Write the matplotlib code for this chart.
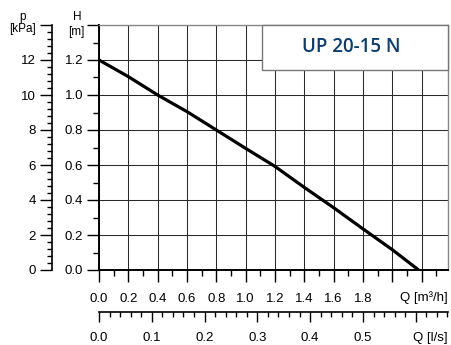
import numpy as np
import matplotlib.pyplot as plt
from matplotlib.ticker import MultipleLocator, FuncFormatter
from matplotlib.patches import Rectangle

plt.rcParams['font.family'] = ['Liberation Sans', 'DejaVu Sans']

# pump curve
q_m3h = [0.0, 0.2, 0.4, 0.6, 0.8, 1.0, 1.2, 1.4, 1.6, 1.8, 2.0, 2.18]
h_m = [1.2, 1.105, 1.0, 0.905, 0.8, 0.695, 0.592, 0.472, 0.356, 0.235, 0.116, 0.0]

title = "UP 20-15 N"
q_lab = "Q [m³/h]"
qls_lab = "Q [l/s]"

fig = plt.figure(figsize=(4.51, 3.45), dpi=100)
ax = fig.add_axes([99 / 451, 75 / 345, 349 / 451, 245 / 345])

ax.set_xlim(0, 2.38)
ax.set_ylim(0, 1.4)

ax.xaxis.set_major_locator(MultipleLocator(0.2))
ax.xaxis.set_minor_locator(MultipleLocator(0.1))
ax.yaxis.set_major_locator(MultipleLocator(0.2))
ax.yaxis.set_minor_locator(MultipleLocator(0.1))
ax.xaxis.set_major_formatter(FuncFormatter(lambda v, p: f"{v:.1f}" if v < 1.9 else ""))
ax.yaxis.set_major_formatter(FuncFormatter(lambda v, p: f"{v:.1f}" if v < 1.3 else ""))

ax.grid(True, which='major', color='#2a2a2a', lw=0.75)
ax.set_axisbelow(True)

ax.tick_params(which='major', direction='out', length=8.5, width=1.0, labelsize=9.5, colors='black')
ax.tick_params(which='minor', direction='out', length=4.3, width=1.0)
ax.tick_params(axis='x', which='major', pad=8)
ax.tick_params(axis='y', which='major', pad=3)

for s in ['top', 'right']:
    ax.spines[s].set_color('#888888')
    ax.spines[s].set_linewidth(1.0)
for s in ['left', 'bottom']:
    ax.spines[s].set_color('black')
    ax.spines[s].set_linewidth(1.4)

ax.plot(q_m3h, h_m, color='black', lw=2.3, solid_capstyle='butt', zorder=3)

# l/s axis below
sec = ax.secondary_xaxis(-0.17, functions=(lambda x: x / 3.6, lambda x: x * 3.6))
sec.xaxis.set_major_locator(MultipleLocator(0.1))
sec.xaxis.set_minor_locator(MultipleLocator(0.02))
sec.xaxis.set_major_formatter(FuncFormatter(lambda v, p: f"{v:.1f}" if v < 0.55 else ""))
sec.tick_params(which='major', direction='out', length=7.5, width=1.0, labelsize=9.5, pad=7)
sec.tick_params(which='minor', direction='out', length=3.6, width=1.0)
sec.spines['bottom'].set_linewidth(1.2)

# kPa axis on the left
pax = ax.secondary_yaxis(-0.1355, functions=(lambda h: h * 10, lambda p: p / 10))
pax.yaxis.set_major_locator(MultipleLocator(2))
pax.yaxis.set_minor_locator(MultipleLocator(0.4))
pax.yaxis.set_major_formatter(FuncFormatter(lambda v, p: f"{v:.0f}" if v < 13 else ""))
pax.tick_params(which='major', direction='out', length=8.5, width=1.0, labelsize=9.5, pad=3)
pax.tick_params(which='minor', direction='out', length=3.6, width=1.0)
pax.spines['left'].set_linewidth(1.2)

# axis names
fig.text(22.5 / 451, 1 - 17 / 345, "p", fontsize=8.5, ha='center', va='center')
fig.text(22.5 / 451, 1 - 29 / 345, "[kPa]", fontsize=8.5, ha='center', va='center')
fig.text(77 / 451, 1 - 17 / 345, "H", fontsize=8.5, ha='center', va='center')
fig.text(76 / 451, 1 - 32 / 345, "[m]", fontsize=8.5, ha='center', va='center')
fig.text(448 / 451, 1 - 298 / 345, q_lab, fontsize=9.5, ha='right', va='center')
fig.text(448 / 451, 1 - 338 / 345, qls_lab, fontsize=9.5, ha='right', va='center')

# title box
x0 = (262 - 99) / 349
y0 = (270 - 70) / 245
box = Rectangle((x0, y0), 1 - x0, 1 - y0, transform=ax.transAxes,
                facecolor='white', edgecolor='#777777', lw=1.0, zorder=4, clip_on=False)
ax.add_patch(box)
ax.text(x0 + (1 - x0) / 2 - 0.012, y0 + (1 - y0) / 2, title, transform=ax.transAxes,
        fontsize=13.5, fontweight='semibold', color='#0b3d6e', family=['Open Sans', 'DejaVu Sans'],
        ha='center', va='center', zorder=5)

fig.savefig('out.png', dpi=100)
